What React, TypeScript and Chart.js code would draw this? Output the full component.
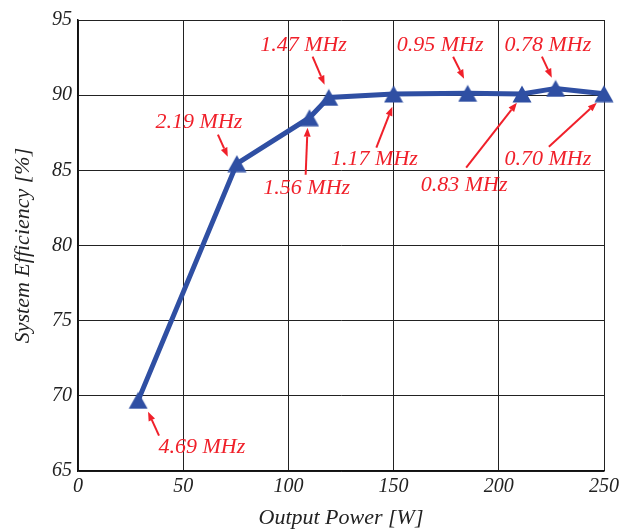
import React, { useEffect, useRef } from "react";
import { Chart, registerables } from "chart.js";

Chart.register(...registerables);

// Measured data
const outputPower = [28.6, 75.5, 110, 119.2, 150, 185.2, 211, 227, 250];
const efficiency = [69.7, 85.45, 88.5, 89.85, 90.08, 90.12, 90.08, 90.45, 90.1];

// Axis ticks
const xTicks = [0, 50, 100, 150, 200, 250];
const yTicks = [65, 70, 75, 80, 85, 90, 95];

// Frequency annotations (data coordinates)
const annLabels = ["4.69 MHz", "2.19 MHz", "1.56 MHz", "1.47 MHz", "0.95 MHz", "0.78 MHz", "1.17 MHz", "0.83 MHz", "0.70 MHz"];
const annTextX = [58.9, 57.5, 108.7, 107.2, 172.1, 223.3, 140.9, 183.5, 223.3];
const annTextY = [66.55, 88.17, 83.78, 93.29, 93.29, 93.29, 85.71, 84.04, 85.71];
const annTailX = [38.5, 66.5, 108.2, 111.5, 178.3, 220.5, 141.8, 184.5, 223.8];
const annTailY = [67.35, 87.37, 84.71, 92.56, 92.56, 92.56, 86.51, 85.18, 86.57];
const annHeadX = [33.3, 71.2, 109.1, 117.2, 183.5, 225.2, 149.4, 208.6, 246.6];
const annHeadY = [68.94, 85.91, 87.84, 90.7, 91.1, 91.16, 89.23, 89.5, 89.5];

const FONT = "'Liberation Serif', 'Times New Roman', serif";
const BLUE = "#2f4fa3";
const RED = "#f0202a";

function makeMarker(): HTMLCanvasElement {
  const c = document.createElement("canvas");
  const w = 20, h = 18;
  c.width = w;
  c.height = h;
  const ctx = c.getContext("2d")!;
  ctx.fillStyle = BLUE;
  ctx.beginPath();
  ctx.moveTo(w / 2, 0.5);
  ctx.lineTo(w - 0.5, h - 0.5);
  ctx.lineTo(0.5, h - 0.5);
  ctx.closePath();
  ctx.fill();
  return c;
}

const annotationPlugin = {
  id: "freqAnnotations",
  afterDatasetsDraw(chart: any) {
    const ctx = chart.ctx as CanvasRenderingContext2D;
    const xs = chart.scales.x;
    const ys = chart.scales.y;
    ctx.save();
    ctx.strokeStyle = RED;
    ctx.fillStyle = RED;
    ctx.lineWidth = 2;
    for (let i = 0; i < annLabels.length; i++) {
      const x1 = xs.getPixelForValue(annTailX[i]);
      const y1 = ys.getPixelForValue(annTailY[i]);
      const x2 = xs.getPixelForValue(annHeadX[i]);
      const y2 = ys.getPixelForValue(annHeadY[i]);
      const ang = Math.atan2(y2 - y1, x2 - x1);
      const hl = 9, hw = 3.5;
      const bx = x2 - hl * Math.cos(ang);
      const by = y2 - hl * Math.sin(ang);
      ctx.beginPath();
      ctx.moveTo(x1, y1);
      ctx.lineTo(bx, by);
      ctx.stroke();
      ctx.beginPath();
      ctx.moveTo(x2, y2);
      ctx.lineTo(bx + hw * Math.sin(ang), by - hw * Math.cos(ang));
      ctx.lineTo(bx - hw * Math.sin(ang), by + hw * Math.cos(ang));
      ctx.closePath();
      ctx.fill();
      ctx.font = `italic 22px ${FONT}`;
      ctx.textAlign = "center";
      ctx.textBaseline = "middle";
      ctx.fillText(annLabels[i], xs.getPixelForValue(annTextX[i]), ys.getPixelForValue(annTextY[i]));
    }
    ctx.restore();
  },
};

export default function App() {
  const ref = useRef<HTMLCanvasElement>(null);
  useEffect(() => {
    if (!ref.current) return;
    const marker = makeMarker();
    const chart = new Chart(ref.current, {
      type: "line",
      data: {
        datasets: [
          {
            data: outputPower.map((x, i) => ({ x, y: efficiency[i] })),
            borderColor: BLUE,
            backgroundColor: BLUE,
            borderWidth: 5,
            pointStyle: marker as any,
            pointRadius: 10,
            fill: false,
            tension: 0,
            clip: false as any,
          },
        ],
      },
      options: {
        responsive: false,
        animation: false,
        devicePixelRatio: 1,
        layout: { padding: { top: 20, right: 18, left: 0, bottom: 0 } },
        plugins: { legend: { display: false }, tooltip: { enabled: false } },
        scales: {
          x: {
            type: "linear",
            min: 0,
            max: 250,
            afterBuildTicks: (s: any) => {
              s.ticks = xTicks.map((v) => ({ value: v }));
            },
            afterFit: (s: any) => {
              s.height = 58;
            },
            grid: { color: "#222", lineWidth: 1, drawTicks: false },
            border: { color: "#111", width: 1.5 },
            ticks: {
              padding: 4,
              color: "#222",
              maxRotation: 0,
              font: { family: FONT, style: "italic", size: 20 },
            },
            title: {
              display: true,
              text: "Output Power [W]",
              color: "#222",
              font: { family: FONT, style: "italic", size: 22, lineHeight: 1 },
              padding: { top: 0, bottom: 0 },
            },
          },
          y: {
            type: "linear",
            min: 65,
            max: 95,
            afterBuildTicks: (s: any) => {
              s.ticks = yTicks.map((v) => ({ value: v }));
            },
            afterFit: (s: any) => {
              s.width = 78;
            },
            grid: { color: "#222", lineWidth: 1, drawTicks: false },
            border: { color: "#111", width: 1.5 },
            ticks: {
              padding: 6,
              color: "#222",
              font: { family: FONT, style: "italic", size: 20 },
            },
            title: {
              display: true,
              text: "System Efficiency [%]",
              color: "#222",
              font: { family: FONT, style: "italic", size: 22, lineHeight: 1 },
              padding: { top: 12, bottom: 0 },
            },
          },
        },
      },
      plugins: [annotationPlugin],
    });
    return () => chart.destroy();
  }, []);
  return (
    <div style={{ position: "absolute", left: 0, top: 0, width: 623, height: 529, background: "#fff" }}>
      <canvas ref={ref} width={623} height={529} style={{ display: "block" }} />
    </div>
  );
}
